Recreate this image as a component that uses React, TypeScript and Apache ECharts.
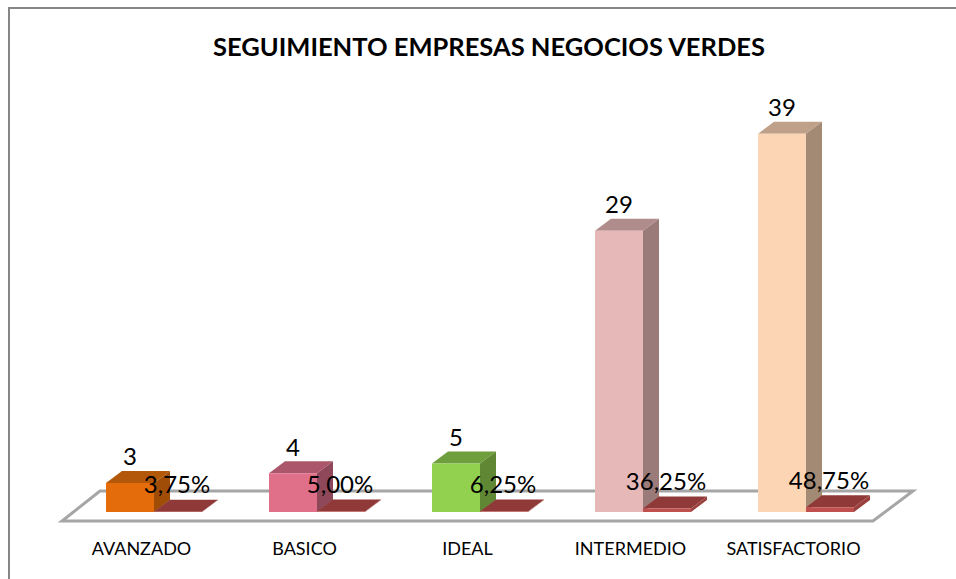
import React, { useEffect, useRef } from "react";
import * as echarts from "echarts";

const chartTitle = "SEGUIMIENTO EMPRESAS NEGOCIOS VERDES";
const categories = ["AVANZADO", "BASICO", "IDEAL", "INTERMEDIO", "SATISFACTORIO"];
const counts = [3, 4, 5, 29, 39];
const shares = [0.0375, 0.05, 0.0625, 0.3625, 0.4875];
const shareLabels = ["3,75%", "5,00%", "6,25%", "36,25%", "48,75%"];
const frontColors = ["#e46c0a", "#e0708a", "#92d050", "#e6b9b8", "#fcd5b5"];
const topColors = ["#b35808", "#ab566b", "#6f9e3d", "#b08d8c", "#bfa189"];
const sideColors = ["#a04e07", "#8f485a", "#5f8734", "#9a7b7a", "#a38a75"];
const shareFront = "#c0504d";
const shareTop = "#8f3a38";
const shareSide = "#9a403d";

const FONT = "Lato, 'Open Sans', sans-serif";
const BAR_RATIO = 48 / 163;
const SHIFT_RATIO = 12.5 / 163;
const DX = 16;
const DY = 12;

function prism(x0: number, x1: number, yTop: number, yBase: number, front: string, top: string, side: string) {
  return [
    { type: "polygon", shape: { points: [[x0, yTop], [x1, yTop], [x1 + DX, yTop - DY], [x0 + DX, yTop - DY]] }, style: { fill: top } },
    { type: "polygon", shape: { points: [[x1, yBase], [x1, yTop], [x1 + DX, yTop - DY], [x1 + DX, yBase - DY]] }, style: { fill: side } },
    { type: "rect", shape: { x: x0, y: yTop, width: x1 - x0, height: yBase - yTop }, style: { fill: front } },
  ];
}

export default function App() {
  const ref = useRef<HTMLDivElement>(null);
  useEffect(() => {
    const chart = echarts.init(ref.current!, null, { renderer: "svg" });
    const renderCount = (params: any, api: any) => {
      const i = api.value(0);
      const band = api.size([1, 0])[0];
      const cx = api.coord([i, 0])[0] + band * SHIFT_RATIO;
      const yBase = api.coord([i, 0])[1];
      const yTop = api.coord([i, api.value(1)])[1];
      const w = band * BAR_RATIO;
      return {
        type: "group",
        children: [
          ...prism(cx - w, cx, yTop, yBase, frontColors[i], topColors[i], sideColors[i]),
          { type: "text", style: { text: String(counts[i]), x: cx - w / 2, y: yTop - 27, align: "center", verticalAlign: "middle", font: `24px ${FONT}`, fill: "#000" } },
        ],
      };
    };
    const renderShare = (params: any, api: any) => {
      const i = api.value(0);
      const band = api.size([1, 0])[0];
      const cx = api.coord([i, 0])[0] + band * SHIFT_RATIO;
      const yBase = api.coord([i, 0])[1];
      const yTop = api.coord([i, api.value(1)])[1];
      const w = band * BAR_RATIO;
      return {
        type: "group",
        children: [
          ...prism(cx, cx + w, yTop, yBase, shareFront, shareTop, shareSide),
          { type: "text", style: { text: shareLabels[i], x: cx + w / 2 - 1, y: yTop - 28, align: "center", verticalAlign: "middle", font: `24px ${FONT}`, fill: "#000" } },
        ],
      };
    };
    chart.setOption({
      animation: false,
      backgroundColor: "#ffffff",
      title: {
        text: chartTitle,
        left: 484,
        top: 28,
        textAlign: "center",
        textStyle: { fontFamily: FONT, fontWeight: "bold", fontSize: 25.5, color: "#000" },
      },
      grid: { left: 60, width: 815, top: 124, bottom: 67 },
      xAxis: {
        type: "category",
        data: categories,
        axisLine: { show: false },
        axisTick: { show: false },
        axisLabel: { margin: 27, fontFamily: FONT, fontSize: 18, color: "#000", interval: 0 },
      },
      yAxis: { type: "value", min: 0, max: 40, show: false },
      graphic: [
        { type: "polyline", z: 0, shape: { points: [[9, 579], [9, 8], [956, 8]] }, style: { stroke: "#868686", lineWidth: 2, fill: "none" } },
        { type: "polygon", z: 0, shape: { points: [[62, 521], [873, 521], [913, 491], [100, 491]] }, style: { stroke: "#a6a6a6", lineWidth: 3, fill: "none" } },
      ],
      series: [
        { type: "custom", renderItem: renderCount, clip: false, z: 3, data: counts.map((v, i) => [i, v]), encode: { x: 0, y: 1 } },
        { type: "custom", renderItem: renderShare, clip: false, z: 4, data: shares.map((v, i) => [i, v]), encode: { x: 0, y: 1 } },
      ],
    });
    return () => chart.dispose();
  }, []);
  return <div ref={ref} style={{ position: "absolute", left: 0, top: 0, width: 956, height: 579 }} />;
}
